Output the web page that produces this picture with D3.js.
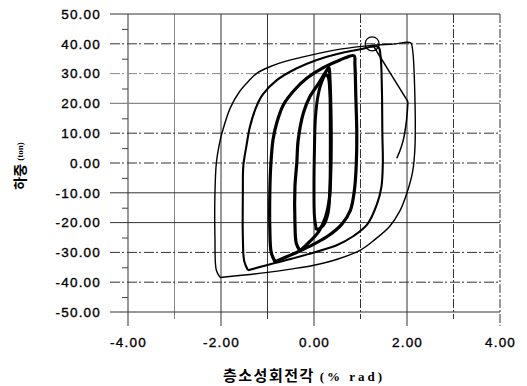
<!DOCTYPE html>
<html>
<head>
<meta charset="utf-8">
<script src="https://cdn.jsdelivr.net/npm/d3@7"></script>
<style>
  body { margin: 0; background: #fff; }
  svg { display: block; }
  .tick text { font-family: "Liberation Sans", Arial, sans-serif; font-size: 13.5px; letter-spacing: 1.2px; fill: #000; stroke: #000; stroke-width: 0.35px; }
</style>
</head>
<body>
<div id="chart"></div>
<script>
// chart values

const xTicks = [-4, -2, 0, 2, 4];
const yTicks = [50, 40, 30, 20, 10, 0, -10, -20, -30, -40, -50];
const xGrid = [-4, -3, -2, -1, 0, 1, 2, 3, 4];
const yGrid = [50, 40, 30, 20, 10, 0, -10, -20, -30, -40, -50];
const yMinor = [45, 35, 25, 15, 5, -5, -15, -25, -35, -45];

// rotation (% rad), load (ton) - one array per cycle amplitude
const loop5 = [
  [-2.02, -38.4], [-2.1, -36], [-2.13, -25], [-2.13, -10], [-2.1, 0], [-2.04, 6], [-1.98, 10],
  [-1.8, 18.5], [-1.6, 24], [-1.4, 27.6], [-1.23, 30.1], [-0.95, 32.3], [-0.5, 34.6], [0.1, 36.8],
  [0.6, 38.3], [1.2, 39.4], [1.7, 39.9], [2.08, 40.3], [2.12, 38], [2.17, 22], [2.17, 5],
  [2.12, -3], [2.0, -10], [1.85, -16], [1.63, -21.2], [1.3, -25.8], [1.0, -29.2], [0.5, -32.3],
  [0.0, -34.3], [-0.5, -35.6], [-1.0, -36.7], [-1.5, -37.6], [-2.02, -38.4]
];
const loop4 = [
  [-1.42, -36], [-1.5, -33], [-1.53, -25], [-1.53, -10], [-1.52, -1], [-1.45, 6], [-1.38, 12],
  [-1.25, 18.5], [-1.1, 23], [-0.8, 27.8], [-0.37, 31.8], [0.06, 34.6], [0.5, 36.6], [1.0, 38.2],
  [1.38, 39.0], [1.43, 36], [1.46, 25], [1.47, 10], [1.48, 0], [1.45, -8], [1.35, -14],
  [1.15, -20.5], [0.85, -24.5], [0.5, -27.5], [0.0, -30], [-0.5, -32.2], [-1.0, -34.2], [-1.42, -36]
];
const loop3 = [
  [-0.84, -33.1], [-0.92, -30], [-0.95, -22], [-0.95, -10], [-0.93, -1], [-0.88, 8], [-0.8, 13.5],
  [-0.66, 19.5], [-0.42, 24.5], [-0.15, 28.5], [0.2, 32], [0.55, 34.5], [0.86, 36], [0.88, 33],
  [0.9, 22], [0.92, 10], [0.91, 0], [0.87, -9], [0.78, -16], [0.6, -20.5], [0.3, -24.5],
  [-0.1, -28], [-0.4, -30.2], [-0.84, -33.1]
];
const loop2 = [
  [-0.3, -29.5], [-0.38, -27], [-0.41, -20], [-0.41, -8], [-0.37, 0], [-0.34, 7.7], [-0.23, 16.7],
  [-0.09, 22.2], [0.09, 26.5], [0.25, 30.5], [0.32, 32], [0.34, 29], [0.36, 20], [0.37, 8],
  [0.36, -3], [0.33, -12], [0.25, -18], [0.1, -23], [-0.1, -26.5], [-0.3, -29.5]
];
const loop1 = [
  [0.05, -22.5], [0.01, -18], [0.0, -8], [0.01, 5], [0.03, 15], [0.08, 22], [0.15, 26.5],
  [0.25, 29.5], [0.3, 29], [0.34, 24], [0.35, 12], [0.35, 0], [0.34, -10], [0.3, -17],
  [0.2, -21], [0.05, -22.5]
];
// last excursion: load drop after the peak, then unloading
const dropLine = [[1.28, 39.2], [2.02, 20.6]];
const unloadTail = [[2.02, 20.6], [1.99, 14.4], [1.92, 7.7], [1.85, 4.2], [1.78, 1.6]];
const peakMark = [1.25, 40];

const width = 527;
const height = 386;

const svg = d3.select("#chart")
  .append("svg")
  .attr("width", width)
  .attr("height", height);

const x = d3.scaleLinear().domain([-4, 4]).range([128, 500]);
const y = d3.scaleLinear().domain([-50, 50]).range([312, 14]);

const fmt = d => d.toFixed(2);

// grid - a few of the scanned lines are solid, the rest broken
const solidX = [-4, -2, -1, 0, 2];
const solidY = [50, 20, -10, -20, -50];

svg.append("g")
  .selectAll("line")
  .data(xGrid)
  .enter()
  .append("line")
  .attr("x1", d => x(d))
  .attr("x2", d => x(d))
  .attr("y1", y(50))
  .attr("y2", d => y(-50) + (d % 2 === 0 ? 14 : 7))
  .attr("stroke", d => d === -3 ? "#888" : "#333")
  .attr("stroke-width", 1)
  .attr("stroke-dasharray", d => solidX.includes(d) || d === -3 ? null : "9,2,2,2");

svg.append("g")
  .selectAll("line")
  .data(yGrid)
  .enter()
  .append("line")
  .attr("x1", 110)
  .attr("x2", x(4))
  .attr("y1", d => y(d))
  .attr("y2", d => y(d))
  .attr("stroke", d => d === 20 || d === 30 ? "#888" : "#333")
  .attr("stroke-width", d => d === 20 ? 1.4 : 1)
  .attr("stroke-dasharray", d => solidY.includes(d) ? null : "10,2,2,3");

// small marks between the labelled load values
svg.append("g")
  .attr("transform", `translate(${x(-4)},0)`)
  .call(d3.axisLeft(y).tickValues(yMinor).tickSize(6).tickFormat(""))
  .call(g => g.select(".domain").remove())
  .selectAll("line")
  .attr("stroke", "#444");

// axis labels
svg.append("g")
  .attr("transform", `translate(${x(-4)},0)`)
  .call(d3.axisLeft(y).tickValues(yTicks).tickFormat(fmt).tickSize(0).tickPadding(27))
  .call(g => g.select(".domain").remove());

svg.append("g")
  .attr("transform", `translate(0,${y(-50)})`)
  .call(d3.axisBottom(x).tickValues(xTicks).tickFormat(fmt).tickSize(0).tickPadding(25))
  .call(g => g.select(".domain").remove());

// hysteresis loops
const line = d3.line()
  .x(d => x(d[0]))
  .y(d => y(d[1]))
  .curve(d3.curveCatmullRom.alpha(0.5));

const loops = [
  { pts: loop5, w: 1.4 },
  { pts: loop4, w: 2.1 },
  { pts: loop3, w: 3.2 },
  { pts: loop2, w: 3.2 },
  { pts: loop1, w: 3 }
];

svg.append("g")
  .selectAll("path")
  .data(loops)
  .enter()
  .append("path")
  .attr("d", d => line(d.pts))
  .attr("fill", "none")
  .attr("stroke", "#000")
  .attr("stroke-width", d => d.w)
  .attr("stroke-linejoin", "round");

svg.append("path")
  .attr("d", d3.line().x(d => x(d[0])).y(d => y(d[1]))(dropLine))
  .attr("fill", "none")
  .attr("stroke", "#000")
  .attr("stroke-width", 1.5);

svg.append("path")
  .attr("d", line(unloadTail))
  .attr("fill", "none")
  .attr("stroke", "#000")
  .attr("stroke-width", 1.5);

svg.append("circle")
  .attr("cx", x(peakMark[0]))
  .attr("cy", y(peakMark[1]))
  .attr("r", 7)
  .attr("fill", "none")
  .attr("stroke", "#000")
  .attr("stroke-width", 1.2);

// axis titles
const ytitle = svg.append("text")
  .attr("transform", "translate(21,166) rotate(-90)")
  .attr("text-anchor", "middle")
  .attr("dominant-baseline", "middle");
ytitle.append("tspan")
  .attr("font-family", "'Noto Sans CJK KR', sans-serif")
  .attr("font-weight", "bold")
  .attr("font-size", 14)
  .text("하중 ");
ytitle.append("tspan")
  .attr("font-family", "'Liberation Serif', serif")
  .attr("font-weight", "bold")
  .attr("font-size", 9)
  .text("(ton)");

const xtitle = svg.append("text")
  .attr("x", 223)
  .attr("y", 381);
xtitle.append("tspan")
  .attr("font-family", "'Noto Sans CJK KR', sans-serif")
  .attr("font-weight", "bold")
  .attr("font-size", 15)
  .attr("letter-spacing", 1.5)
  .text("층소성회전각 ");
xtitle.append("tspan")
  .attr("font-family", "'Liberation Serif', serif")
  .attr("font-weight", "bold")
  .attr("font-size", 13)
  .attr("letter-spacing", 3)
  .text("(% rad)");
</script>
</body>
</html>
